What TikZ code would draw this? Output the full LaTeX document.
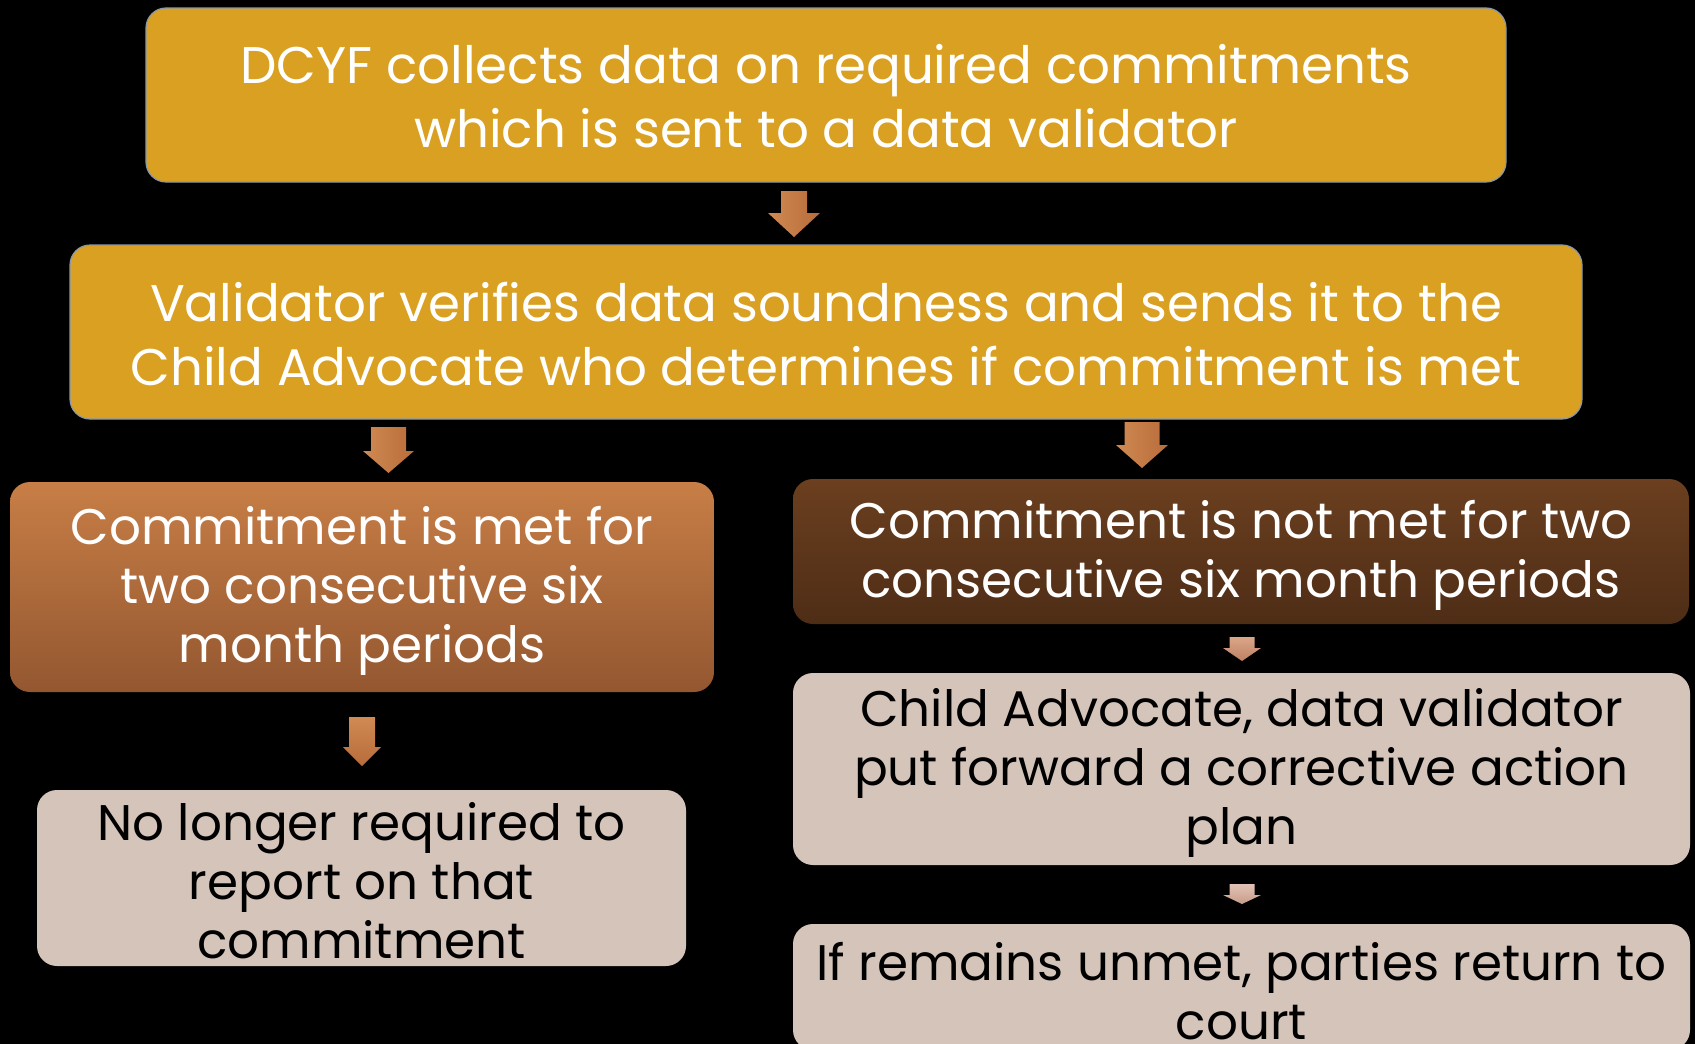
\documentclass[tikz,border=0pt]{standalone}
\usepackage{fontspec}
\setmainfont{Poppins}
\definecolor{gold}{HTML}{DAA021}
\definecolor{goldline}{HTML}{8A98A8}
\definecolor{copperTop}{HTML}{C87E46}
\definecolor{copperBot}{HTML}{935730}
\definecolor{darkTop}{HTML}{6B3F1F}
\definecolor{darkBot}{HTML}{4E2D16}
\definecolor{beige}{HTML}{D4C4BA}
\definecolor{arrA}{HTML}{D08A52}
\definecolor{arrB}{HTML}{B86C3A}
\definecolor{arrC}{HTML}{DBA689}
\definecolor{arrD}{HTML}{BE8063}
\definecolor{arrE}{HTML}{E2C2B4}
\definecolor{arrF}{HTML}{C79C8A}
\tikzset{
  box/.style={rounded corners=20pt, inner sep=0pt},
  bigtext/.style={align=center, text=white, inner sep=0pt, font=\fontsize{51.5}{64}\selectfont},
  smalltext/.style={align=center, inner sep=0pt, font=\fontsize{50}{59}\selectfont},
}
\newcommand{\blockarr}[8]{%
  \fill[left color=#7, right color=#8]
    (#1-#5,#2) -- (#1+#5,#2) -- (#1+#5,#3) -- (#1+#6,#3) -- (#1,#4)
    -- (#1-#6,#3) -- (#1-#5,#3) -- cycle;}
\newcommand{\smallarr}[8]{%
  \fill[top color=#7, bottom color=#8]
    (#1-#5,#2) -- (#1+#5,#2) -- (#1+#5,#3) -- (#1+#6,#3) -- (#1,#4)
    -- (#1-#6,#3) -- (#1-#5,#3) -- cycle;}
\begin{document}
\begin{tikzpicture}[x=1pt,y=-1pt]
\fill[black] (0,0) rectangle (1695,1044);
\useasboundingbox (0,0) rectangle (1695,1044);
\begin{scope}
\clip (0,0) rectangle (1695,1044);
\node[box, fill=gold, draw=goldline, line width=1.2pt, minimum width=1360pt, minimum height=174pt] (b1) at (826,95) {};
\node[box, fill=gold, draw=goldline, line width=1.2pt, minimum width=1512pt, minimum height=174pt] (b2) at (826,332) {};
\node[box, top color=copperTop, bottom color=copperBot, minimum width=704pt, minimum height=210pt] (l3) at (362,587) {};
\node[box, top color=darkTop, bottom color=darkBot, minimum width=896pt, minimum height=145pt] (r3) at (1241,551.5) {};
\node[box, fill=beige, minimum width=649pt, minimum height=176pt] (l4) at (361.5,878) {};
\node[box, fill=beige, minimum width=897pt, minimum height=192pt] (r4) at (1241.5,769) {};
\node[box, fill=beige, minimum width=897pt, minimum height=126pt] (r5) at (1241.5,987) {};
\node[bigtext] (t1) at ([yshift=-1pt]b1.center)
  {DCYF collects data on required commitments\\which is sent to a data validator};
\node[bigtext] (t2) at ([yshift=-2pt]b2.center)
  {Validator verifies data soundness and sends it to the\\Child Advocate who determines if commitment is met};
\node[smalltext, text=white] (t3) at ([yshift=-4pt]l3.center)
  {Commitment is met for\\two consecutive six\\month periods};
\node[smalltext, text=white] (t4) at ([yshift=-4pt]r3.center)
  {Commitment is not met for two\\consecutive six month periods};
\node[smalltext, text=black] (t5) at ([yshift=-3pt]l4.center)
  {No longer required to\\report on that\\commitment};
\node[smalltext, text=black] (t6) at ([yshift=-4pt]r4.center)
  {Child Advocate, data validator\\put forward a corrective action\\plan};
\node[smalltext, text=black] (t7) at ([yshift=-4pt]r5.center)
  {If remains unmet, parties return to\\court};
\end{scope}
\blockarr{794}{191}{213}{237}{13}{26}{arrA}{arrB}
\blockarr{388.5}{427}{451}{473}{17.5}{25.5}{arrA}{arrB}
\blockarr{1142}{422}{445}{468}{17.5}{26}{arrA}{arrB}
\smallarr{362}{717}{747}{766}{13}{19}{arrA}{arrB}
\smallarr{1242}{637}{648}{661}{12.5}{19}{arrC}{arrD}
\smallarr{1242}{884}{895}{904}{12.5}{19}{arrE}{arrF}
\end{tikzpicture}
\end{document}
